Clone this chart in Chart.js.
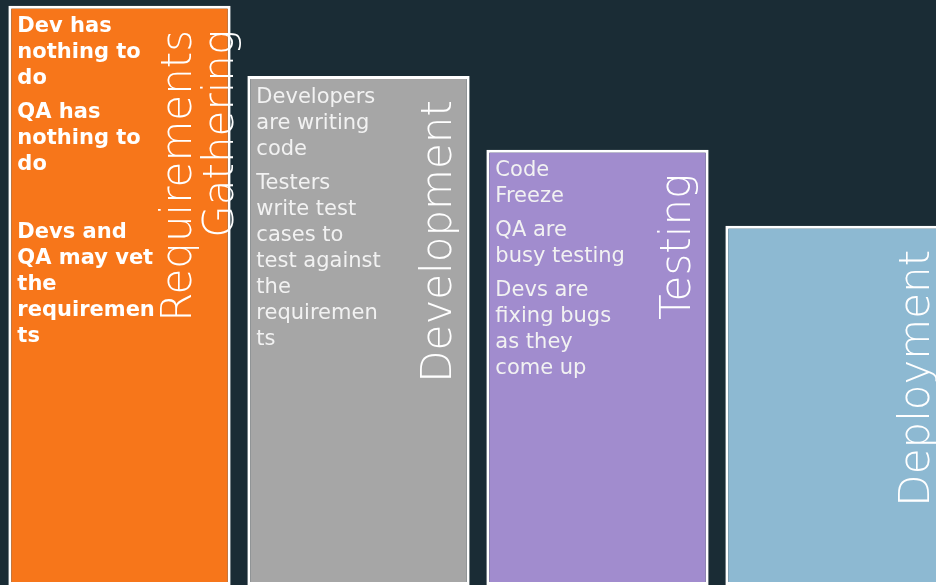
<!DOCTYPE html>
<html>
<head>
<meta charset="utf-8">
<script src="https://cdn.jsdelivr.net/npm/chart.js@4/dist/chart.umd.min.js"></script>
<style>
    html, body { margin: 0; padding: 0; background: #1A2C35; overflow: hidden; }
    #grafica { display: block; }
</style>
</head>
<body>
<canvas id="grafica" width="956" height="585"></canvas>
<script>
const $grafica = document.querySelector("#grafica");

const phases = ["Requirements Gathering", "Development", "Testing", "Deployment"];
const titleLines = [["Requirements", "Gathering"], ["Development"], ["Testing"], ["Deployment"]];
const heights = [99, 87, 74.4, 61.4];

// one list of paragraphs per phase, lines broken as on the slide
const notes = [
    [["Dev has", "nothing to", "do"], ["QA has", "nothing to", "do"], [], ["Devs and", "QA may vet", "the", "requiremen", "ts"]],
    [["Developers", "are writing", "code"], ["Testers", "write test", "cases to", "test against", "the", "requiremen", "ts"]],
    [["Code", "Freeze"], ["QA are", "busy testing"], ["Devs are", "fixing bugs", "as they", "come up"]],
    [],
];

const colors = ['#F7761A', '#A6A6A6', '#A18CCE', '#8DB9D2'];
const noteFonts = ['bold 21px "DejaVu Sans"', '21px "DejaVu Sans"', '21px "DejaVu Sans"', '21px "DejaVu Sans"'];

const textPlugin = {
    id: 'phaseText',
    afterDatasetsDraw(chart) {
        const ctx = chart.ctx;
        chart.getDatasetMeta(0).data.forEach((bar, i) => {
            const { x, y, width } = bar.getProps(['x', 'y', 'width'], true);
            const left = x - width / 2;
            const right = x + width / 2;

            // notes
            ctx.save();
            ctx.fillStyle = i === 0 ? '#FFFFFF' : '#F2F2F2';
            ctx.font = noteFonts[i];
            ctx.textAlign = 'left';
            ctx.textBaseline = 'middle';
            let ty = y + 21;
            notes[i].forEach((para, p) => {
                if (p > 0) ty += 8;
                if (para.length === 0) ty += 26;
                para.forEach(line => {
                    ctx.fillText(line, left + 9, ty);
                    ty += 26;
                });
            });
            ctx.restore();

            // rotated title
            const lines = titleLines[i];
            ctx.save();
            ctx.translate(right - 30, y + 24);
            ctx.rotate(-Math.PI / 2);
            ctx.fillStyle = '#FFFFFF';
            ctx.font = '200 42px "DejaVu Sans"';
            ctx.textAlign = 'right';
            ctx.textBaseline = 'middle';
            lines.forEach((t, j) => ctx.fillText(t, 0, (j - (lines.length - 1) / 2) * 42));
            ctx.restore();
        });
    }
};

new Chart($grafica, {
    type: 'bar',
    data: {
        labels: phases,
        datasets: [{
            data: heights,
            backgroundColor: colors,
            borderColor: '#FFFFFF',
            borderWidth: 3,
            borderSkipped: false,
            barPercentage: 0.93,
            categoryPercentage: 1,
        }]
    },
    options: {
        responsive: false,
        animation: false,
        layout: { padding: 0 },
        plugins: { legend: { display: false }, tooltip: { enabled: false } },
        scales: {
            x: { display: false },
            y: { display: false, min: 0, max: 100 },
        },
    },
    plugins: [textPlugin],
});
</script>
</body>
</html>
